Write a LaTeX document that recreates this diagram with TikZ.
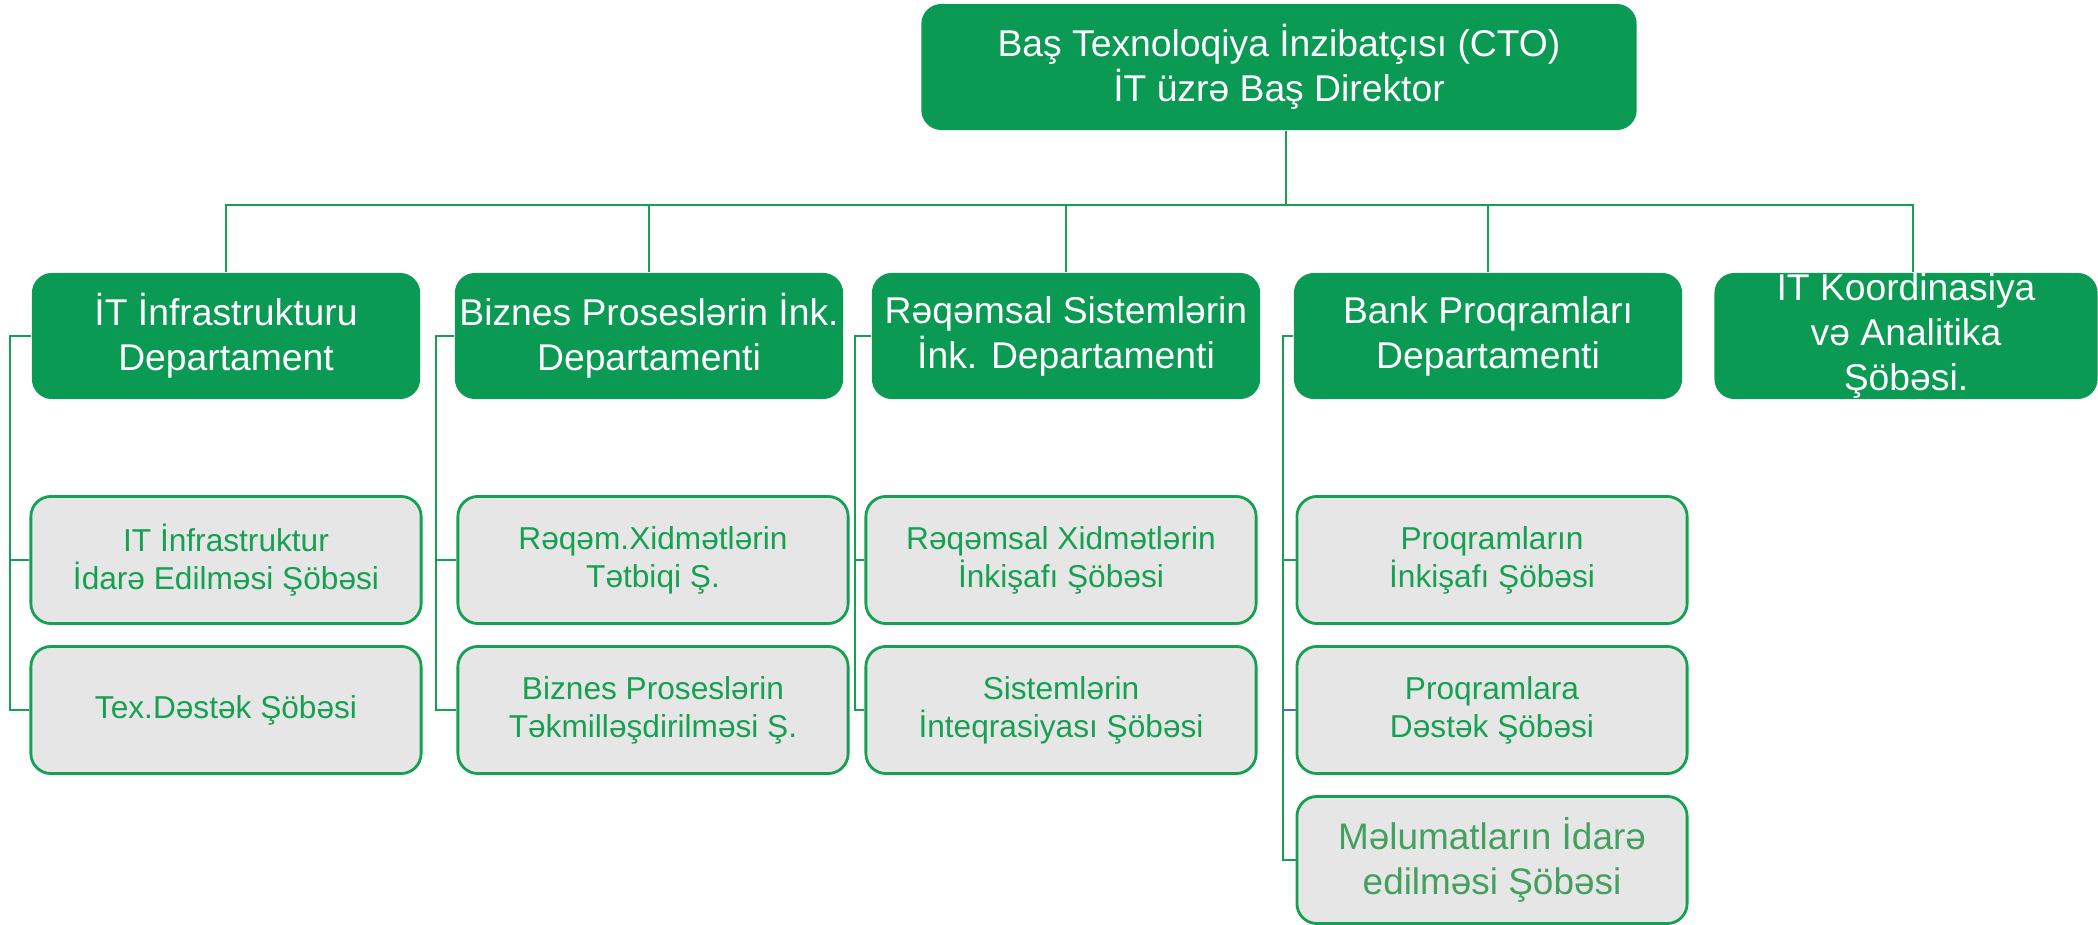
\documentclass[tikz,border=0pt]{standalone}
\usepackage{fontspec}
\setmainfont{Liberation Sans}
\definecolor{orggreen}{HTML}{0B9A53}
\definecolor{unitgreen}{HTML}{16A052}
\definecolor{unitgray}{HTML}{E6E6E6}
\definecolor{dullgreen}{HTML}{45A060}
\definecolor{tickblue}{HTML}{4472C4}

\begin{document}
\begin{tikzpicture}[x=0.01cm, y=-0.01cm,
  head/.style={rectangle, rounded corners=0.2cm, fill=orggreen, text=white, align=center,
    inner sep=0pt, font=\fontsize{10.6}{12.8}\selectfont},
  dept/.style={head, minimum width=3.88cm, minimum height=1.26cm},
  unit/.style={rectangle, rounded corners=0.2cm, draw=unitgreen, line width=0.8pt, fill=unitgray,
    text=unitgreen, align=center, inner sep=0pt, minimum width=3.9cm, minimum height=1.27cm,
    font=\fontsize{9}{10.8}\selectfont},
  link/.style={draw=unitgreen, line width=0.6pt}]
  \useasboundingbox (0,0) rectangle (2098,925);

  % Top: CTO
  \node[head, minimum width=7.15cm, minimum height=1.26cm] (cto) at (1279,67)
    {Baş Texnoloqiya İnzibatçısı (CTO)\\İT üzrə Baş Direktor};

  % Departments
  \node[dept] (infra) at (226,336) {İT İnfrastrukturu\\Departament};
  \node[dept] (biznes) at (649,336) {Biznes Proseslərin İnk.\\Departamenti};
  \node[dept] (reqem) at (1066,336) {Rəqəmsal Sistemlərin\\İnk. Departamenti};
  \node[dept] (bank) at (1488,336) {Bank Proqramları\\Departamenti};
  \node[dept, minimum width=3.83cm] (koord) at (1906,336) {IT Koordinasiya\\və Analitika\\Şöbəsi.};

  % Sections
  \node[unit] (infra1) at (226,560) {IT İnfrastruktur\\İdarə Edilməsi Şöbəsi};
  \node[unit] (infra2) at (226,710) {Tex.Dəstək Şöbəsi};
  \node[unit] (biznes1) at (653,560) {Rəqəm.Xidmətlərin\\Tətbiqi Ş.};
  \node[unit] (biznes2) at (653,710) {Biznes Proseslərin\\Təkmilləşdirilməsi Ş.};
  \node[unit] (reqem1) at (1061,560) {Rəqəmsal Xidmətlərin\\İnkişafı Şöbəsi};
  \node[unit] (reqem2) at (1061,710) {Sistemlərin\\İnteqrasiyası Şöbəsi};
  \node[unit] (bank1) at (1492,560) {Proqramların\\İnkişafı Şöbəsi};
  \node[unit] (bank2) at (1492,710) {Proqramlara\\Dəstək Şöbəsi};
  \node[unit, text=dullgreen, font=\fontsize{10.5}{12.6}\selectfont] (bank3) at (1492,860)
    {Məlumatların İdarə\\edilməsi Şöbəsi};

  % Tree from the top
  \coordinate (bus) at (1286,205);
  \draw[link] (cto.south -| bus) -- (bus);
  \draw[link] (infra.north) |- (bus) -| ([xshift=0.07cm]koord.north);
  \draw[link] (biznes.north) -- (biznes.north |- bus);
  \draw[link] (reqem.north) -- (reqem.north |- bus);
  \draw[link] (bank.north) -- (bank.north |- bus);

  % Side brackets
  \draw[link] (infra.west) -- ++(-21,0) |- (infra1.west);
  \draw[link] (infra.west) -- ++(-21,0) |- (infra2.west);
  \draw[link] (biznes.west) -- ++(-18,0) |- (biznes1.west);
  \draw[link] (biznes.west) -- ++(-18,0) |- (biznes2.west);
  \draw[link] (reqem.west) -- ++(-16,0) |- (reqem1.west);
  \draw[link] (reqem.west) -- ++(-16,0) |- (reqem2.west);
  \draw[link] (bank.west) -- ++(-10,0) |- (bank1.west);
  \draw[link] (bank.west) -- ++(-10,0) |- (bank3.west);
  \draw[link, tickblue] (bank2.west) -- ++(-14,0);
\end{tikzpicture}
\end{document}
